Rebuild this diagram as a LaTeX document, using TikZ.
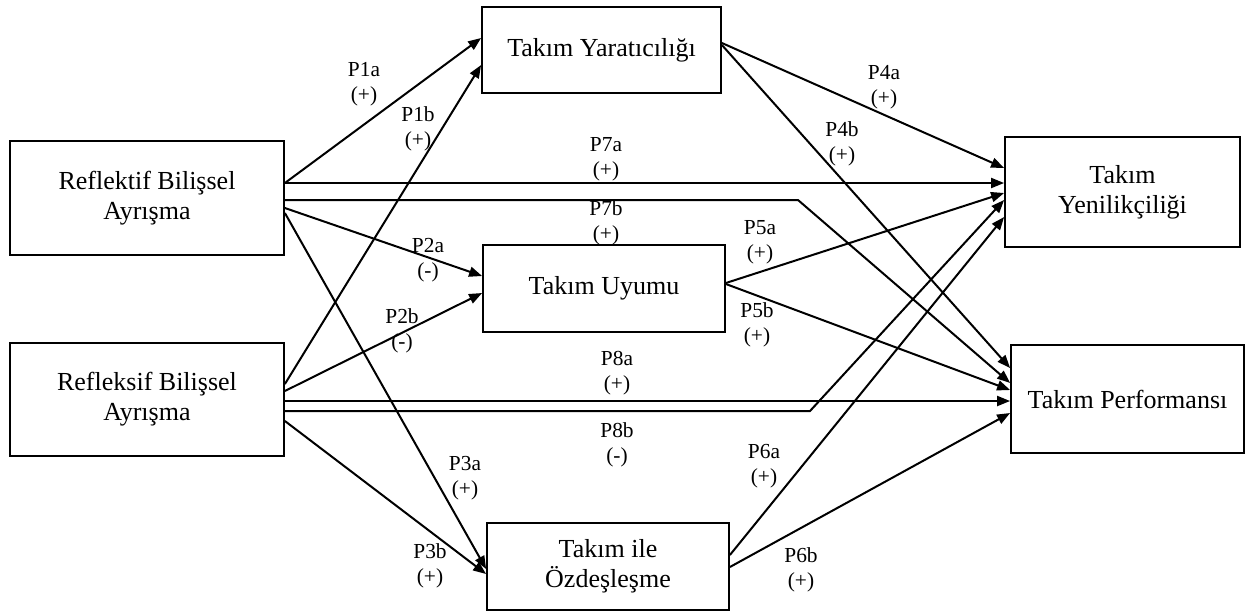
\documentclass[tikz,border=0pt]{standalone}
\usepackage{fontspec}
\setmainfont{Liberation Serif}
\usetikzlibrary{arrows.meta}
\usetikzlibrary{calc}
\tikzstyle{box} = [draw,line width=0.9pt,align=center,inner sep=2pt,font=\fontsize{13}{15}\selectfont]
\tikzstyle{arrow} = [line width=1pt,-{Triangle[length=6.5pt,width=5pt]}]
\tikzstyle{hyp} = [align=center,inner sep=0pt,font=\fontsize{10.7}{12.5}\selectfont]

\begin{document}
\begin{tikzpicture}[x=0.5pt,y=-0.5pt]

    \useasboundingbox (0,0) rectangle (1245,612); % whole page

    % left side
    \node[box,minimum width=137pt,minimum height=57pt] (refl) at (147,198) {Reflektif Bilişsel\\Ayrışma};
    \node[box,minimum width=137pt,minimum height=56.5pt] (refs) at (147,399.5) {Refleksif Bilişsel\\Ayrışma};

    % middle
    \node[box,minimum width=119.5pt,minimum height=43pt] (yar) at (601.5,50) {Takım Yaratıcılığı};
    \node[box,minimum width=121pt,minimum height=43.5pt] (uyum) at (604,288.5) {Takım Uyumu};
    \node[box,minimum width=121pt,minimum height=43.5pt] (ozd) at (608,566.5) {Takım ile\\Özdeşleşme};

    % right side
    \node[box,minimum width=117.5pt,minimum height=55pt] (yen) at (1122.5,192) {Takım\\Yenilikçiliği};
    \node[box,minimum width=116.5pt,minimum height=54pt] (perf) at (1127.5,399) {Takım Performansı};

    \coordinate (bendA) at (798,200);
    \coordinate (bendB) at (810,411);

    % arrows from the left boxes
    \draw[arrow] (refl.east |- 0,183) -- (yar.west |- 0,38);
    \draw[arrow] (refs.east |- 0,384) -- (yar.west |- 0,65);
    \draw[arrow] (refl.east |- 0,183) -- (yen.west |- 0,183);
    \draw[arrow] (refl.east |- 0,200) -- (bendA) -- (perf.west |- 0,383);
    \draw[arrow] (refl.east |- 0,208) -- (uyum.west |- 0,276);
    \draw[arrow] (refl.east |- 0,213) -- (ozd.west |- 0,569);
    \draw[arrow] (refs.east |- 0,391) -- (uyum.west |- 0,293);
    \draw[arrow] (refs.east |- 0,401) -- (perf.west |- 0,401);
    \draw[arrow] (refs.east |- 0,411) -- (bendB) -- (yen.west |- 0,200);
    \draw[arrow] (refs.east |- 0,421) -- (ozd.west |- 0,574);

    % arrows from the middle boxes
    \draw[arrow] (yar.east |- 0,43) -- (yen.west |- 0,168);
    \draw[arrow] (yar.east |- 0,45) -- (perf.west |- 0,368);
    \draw[arrow] (uyum.east |- 0,283) -- (yen.west |- 0,193);
    \draw[arrow] (uyum.east |- 0,284) -- (perf.west |- 0,390);
    \draw[arrow] (ozd.east |- 0,555) -- (yen.west |- 0,217);
    \draw[arrow] (ozd.east |- 0,567) -- (perf.west |- 0,413);

    % hypotheses
    \node[hyp] (p1a) at (364,84.5) {P1a\\(+)};
    \node[hyp] (p1b) at (418,128.5) {P1b\\(+)};
    \node[hyp] (p2a) at (428,260) {P2a\\(-)};
    \node[hyp] (p2b) at (402,331) {P2b\\(-)};
    \node[hyp] (p3a) at (465,478.5) {P3a\\(+)};
    \node[hyp] (p3b) at (430,566) {P3b\\(+)};
    \node[hyp] (p4a) at (884,87.5) {P4a\\(+)};
    \node[hyp] (p4b) at (842,143.5) {P4b\\(+)};
    \node[hyp] (p5a) at (760,242.5) {P5a\\(+)};
    \node[hyp] (p5b) at (757,324.5) {P5b\\(+)};
    \node[hyp] (p6a) at (764,466.5) {P6a\\(+)};
    \node[hyp] (p6b) at (801,569.5) {P6b\\(+)};
    \node[hyp] (p7a) at (606,159.5) {P7a\\(+)};
    \node[hyp] (p7b) at (606,222.5) {P7b\\(+)};
    \node[hyp] (p8a) at (617,373.5) {P8a\\(+)};
    \node[hyp] (p8b) at (617,445) {P8b\\(-)};

\end{tikzpicture}
\end{document}
